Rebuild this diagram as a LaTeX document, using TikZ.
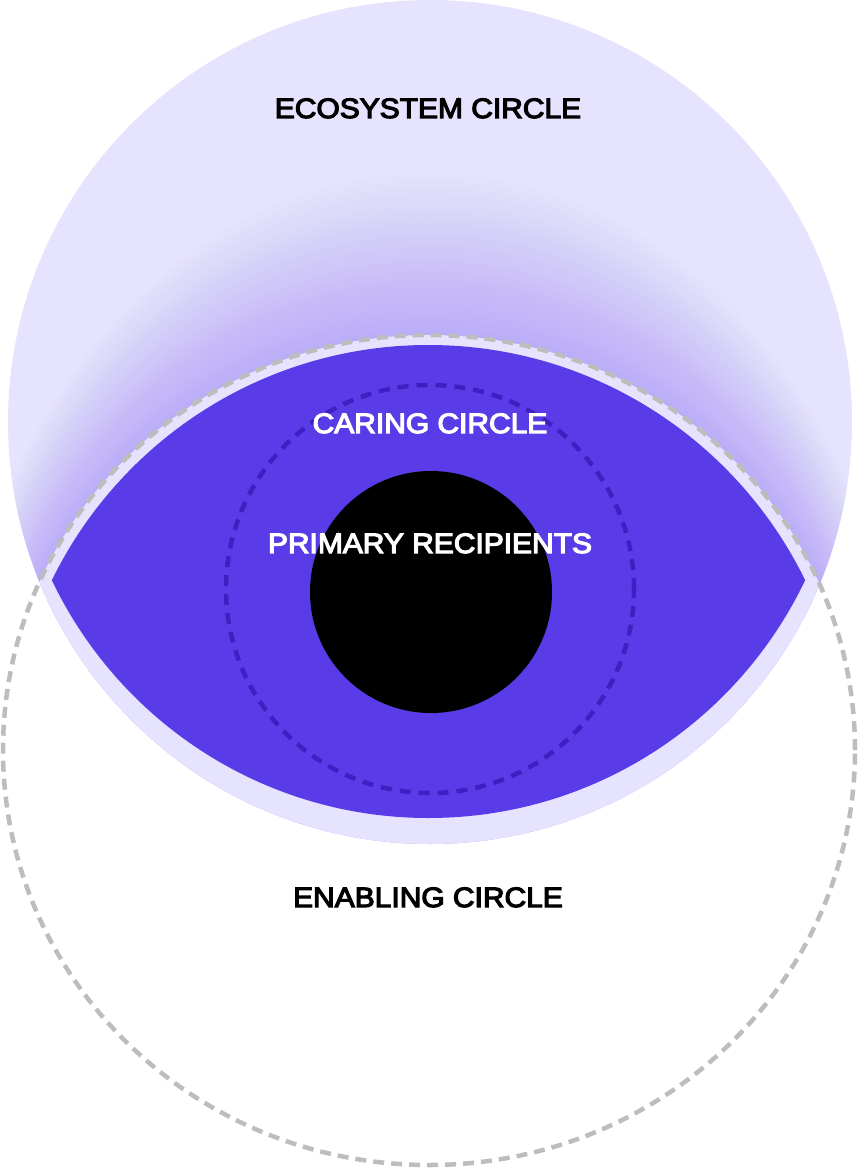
\documentclass[tikz,border=0pt]{standalone}
\usepackage{fontspec}
\usepackage{graphicx}
\newfontfamily\lblfont{Liberation Sans}[FakeBold=4]
\definecolor{lav}{HTML}{E6E3FE}
\definecolor{glow}{HTML}{967DF8}
\definecolor{eyepurple}{HTML}{5A3BE8}
\definecolor{caringdash}{HTML}{3E20C2}
\definecolor{graydash}{HTML}{BDBDBD}
\tikzset{
  lbl/.style={font=\lblfont\fontsize{28}{30}\selectfont, anchor=base, inner sep=0pt},
  graydashed/.style={draw=graydash, line width=4.5pt, dash pattern=on 11pt off 7pt},
  caringdashed/.style={draw=caringdash, line width=4.5pt, dash pattern=on 11pt off 8pt},
}
\newcommand{\wide}[1]{\scalebox{1.07}[1]{#1}}
\begin{document}
\begin{tikzpicture}[x=1pt,y=-1pt]
\useasboundingbox (0,0) rectangle (857,1169);
\coordinate (A) at (430,422);
\coordinate (B) at (429,750);
% ecosystem circle
\fill[lav] (A) circle (422pt);
\begin{scope}
  \clip (A) circle (422pt);
  \foreach \k in {1,...,35}{
    \pgfmathsetmacro{\rx}{426+0.6*\k+0.02*\k*\k}
    \pgfmathsetmacro{\ry}{415+2.5*\k+0.06*\k*\k}
    \fill[glow, opacity=0.0155] (B) ellipse (\rx pt and \ry pt);
  }
  \fill[lav] (B) ellipse (426pt and 415pt);
\end{scope}
% enabling circle
\draw[graydashed] (B) ellipse (426pt and 415pt);
% eye
\begin{scope}
  \clip (428.5,764) circle (419pt);
  \fill[eyepurple] (428.5,401) circle (417pt);
\end{scope}
% caring circle
\draw[caringdashed] (430,589) circle (204pt);
% primary recipients
\fill[black] (431,592) circle (121pt);
% labels
\node[lbl, text=black] (eco) at (428,118) {\wide{ECOSYSTEM CIRCLE}};
\node[lbl, text=white] (caring) at (430,433) {\wide{CARING CIRCLE}};
\node[lbl, text=white] (primary) at (430,553) {\wide{PRIMARY RECIPIENTS}};
\node[lbl, text=black] (enabling) at (428,907) {\wide{ENABLING CIRCLE}};
\end{tikzpicture}
\end{document}
